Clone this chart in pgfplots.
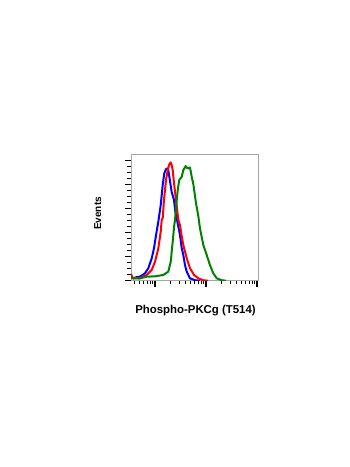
\documentclass[border=0pt]{standalone}
\usepackage{pgfplots}
\pgfplotsset{compat=1.18}
\usepackage{fontspec}
\setmainfont{Liberation Sans}
\definecolor{cblue}{RGB}{0,0,255}
\definecolor{cred}{RGB}{255,0,0}
\definecolor{cgreen}{RGB}{0,130,0}
\begin{document}
\begin{tikzpicture}[x=1pt,y=1pt]
\path[use as bounding box] (0,0) rectangle (350,467);
\begin{axis}[
  at={(131pt,186.3pt)}, anchor=south west,
  scale only axis, width=127pt, height=126.7pt,
  xmin=1.529, xmax=4.02, ymin=0, ymax=5.28,
  xtick={2,3,4},
  minor xtick={1.602,1.699,1.778,1.845,1.903,1.954,2.301,2.477,2.602,2.699,2.778,2.845,2.903,2.954,3.301,3.477,3.602,3.699,3.778,3.845,3.903,3.954},
  ytick={0,1,2,3,4,5},
  minor y tick num=3,
  xticklabels={}, yticklabels={},
  xtick pos=bottom, ytick pos=left,
  tick align=outside,
  major tick length=6pt, minor tick length=3.5pt,
  major tick style={black, line width=1.2pt},
  minor tick style={black, line width=0.8pt},
  axis line style={draw=black!35, line width=0.8pt},
  clip=true,
]
\addplot[cblue, line width=2pt, line join=round] coordinates {
(1.529,0.20) (1.575,0.10) (1.641,0.15) (1.706,0.17) (1.771,0.26) (1.804,0.31)
(1.869,0.52) (1.935,0.93) (1.980,1.35) (2.020,1.90) (2.065,2.46) (2.112,3.15)
(2.151,3.99) (2.182,4.48) (2.216,4.65) (2.235,4.68) (2.261,4.61) (2.294,4.15)
(2.327,3.70) (2.373,3.36) (2.398,2.88) (2.425,2.61) (2.451,2.32) (2.490,1.90)
(2.524,1.36) (2.555,1.07) (2.588,0.65) (2.622,0.38) (2.686,0.10) (2.784,0.02)
(2.882,0)
};
\addplot[cred, line width=2pt, line join=round] coordinates {
(1.529,0.28) (1.569,0.09) (1.641,0.10) (1.706,0.10) (1.837,0.24) (1.935,0.45)
(2.000,0.79) (2.065,1.35) (2.112,2.04) (2.131,2.53) (2.151,2.61) (2.176,3.36)
(2.216,4.20) (2.249,4.61) (2.275,4.82) (2.294,4.89) (2.308,4.93) (2.327,4.82)
(2.347,4.61) (2.373,4.06) (2.412,3.36) (2.457,2.53) (2.490,2.32) (2.520,1.90)
(2.555,1.49) (2.622,0.93) (2.686,0.52) (2.765,0.24) (2.849,0.10) (2.941,0.02)
(3.040,0)
};
\addplot[cgreen, line width=2pt, line join=round] coordinates {
(1.529,0.11) (1.706,0.10) (1.837,0.17) (2.000,0.18) (2.163,0.24) (2.261,0.38)
(2.308,0.79) (2.347,1.63) (2.378,2.32) (2.392,2.53) (2.425,3.36) (2.451,3.86)
(2.476,4.20) (2.524,4.33) (2.555,4.61) (2.602,4.78) (2.627,4.70) (2.653,4.68)
(2.686,4.72) (2.720,4.33) (2.751,4.03) (2.804,3.23) (2.849,2.70) (2.882,2.18)
(2.947,1.49) (3.014,1.07) (3.078,0.65) (3.143,0.31) (3.210,0.10) (3.308,0.02)
(3.390,0)
};
\end{axis}
\node[anchor=base, font=\bfseries\fontsize{11.4}{13}\selectfont, inner sep=0pt] at (195.5,153) {Phospho-PKCg (T514)};
\node[rotate=90, font=\bfseries\fontsize{10}{12}\selectfont, inner sep=0pt] at (97.8,253.5) {Events};
\end{tikzpicture}
\end{document}
